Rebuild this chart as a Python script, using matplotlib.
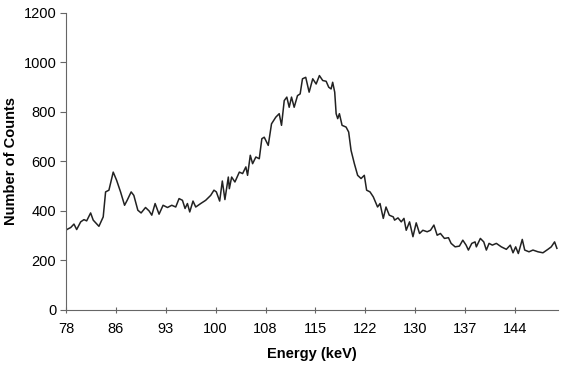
import matplotlib
matplotlib.use("Agg")
import matplotlib.pyplot as plt
import numpy as np

plt.rcParams['font.family'] = ['Liberation Sans', 'DejaVu Sans']

# Energy (keV) of traced points and counts
energy = [78.0, 78.19, 78.69, 79.17, 79.57, 80.16, 80.64, 81.04, 81.62, 82.00, 82.84,
          83.47, 83.82, 84.31, 84.94, 85.44, 86.02, 86.61, 86.99, 87.58, 87.97,
          88.56, 89.04, 89.69, 90.22, 90.61, 91.10, 91.68, 92.27, 92.92, 93.55,
          94.13, 94.62, 95.12, 95.50, 95.85, 96.19, 96.67, 97.07, 97.80, 98.53,
          99.27, 99.75, 100.10, 100.59, 100.98, 101.36, 101.86, 102.01, 102.35,
          102.83, 103.48, 103.96, 104.44, 104.69, 105.09, 105.43, 105.91, 106.41,
          106.79, 107.14, 107.73, 108.21, 108.84, 109.34, 109.68, 110.08, 110.46,
          110.81, 111.15, 111.54, 112.03, 112.42, 112.76, 113.24, 113.74, 114.27,
          114.77, 115.25, 115.74, 116.24, 116.62, 116.97, 117.20, 117.50, 117.71,
          117.94, 118.19, 118.58, 119.17, 119.55, 119.90, 120.39, 120.87, 121.37,
          121.85, 122.19, 122.69, 123.17, 123.80, 124.16, 124.64, 125.04, 125.52,
          126.11, 126.30, 126.80, 127.28, 127.68, 128.01, 128.50, 129.00, 129.48,
          129.97, 130.46, 131.09, 131.58, 132.08, 132.56, 133.04, 133.63, 134.22,
          134.61, 135.20, 135.83, 136.33, 136.81, 137.15, 137.65, 138.13, 138.32,
          138.91, 139.41, 139.79, 140.19, 140.67, 141.26, 141.99, 142.73, 143.31,
          143.71, 144.10, 144.49, 145.07, 145.43, 146.06, 146.64, 147.38, 148.11,
          148.84, 149.33, 149.82, 150.16]
counts = [322, 326, 333, 347, 325, 356, 365, 360, 392, 363, 338,
          376, 477, 484, 557, 524, 477, 423, 443, 477, 463,
          403, 392, 414, 400, 383, 430, 387, 423, 414, 423,
          416, 450, 443, 410, 430, 396, 440, 416, 430, 443,
          463, 484, 477, 440, 521, 446, 537, 490, 537,
          517, 557, 551, 578, 544, 625, 591, 618, 611,
          692, 698, 665, 752, 779, 793, 746, 846, 860,
          819, 860, 819, 866, 873, 934, 940, 880, 934,
          913, 947, 927, 924, 900, 893, 920, 880, 793,
          773, 793, 746, 739, 719, 645, 591, 544, 531,
          544, 484, 477, 457, 416, 430, 370, 416, 383,
          376, 363, 372, 356, 370, 322, 356, 296, 352,
          309, 322, 316, 322, 343, 302, 309, 289, 292,
          269, 255, 258, 282, 262, 242, 269, 275, 255,
          289, 275, 242, 269, 262, 269, 255, 245, 262,
          231, 255, 228, 285, 242, 235, 242, 235, 231,
          245, 255, 275, 249]

tick_labels = ['78', '86', '93', '100', '108', '115', '122', '130', '137', '144']
tick_pos = np.linspace(78, 144, len(tick_labels))
y_ticks = [0, 200, 400, 600, 800, 1000, 1200]

fig = plt.figure(figsize=(5.66, 3.78), dpi=100)
ax = fig.add_axes([0.1166, 0.180, 0.869, 0.7857])
ax.plot(energy, counts, color='#222222', linewidth=1.1, solid_joinstyle='round')

ax.set_xlim(78, 150.3)
ax.set_ylim(0, 1200)
ax.set_xticks(tick_pos)
ax.set_xticklabels(tick_labels)
ax.set_yticks(y_ticks)

for s in ['top', 'right']:
    ax.spines[s].set_visible(False)
for s in ['left', 'bottom']:
    ax.spines[s].set_color('#666666')
    ax.spines[s].set_linewidth(0.8)

ax.tick_params(axis='y', direction='out', length=4, width=0.8, color='#666666',
               labelsize=10.5, pad=3)
ax.tick_params(axis='x', direction='inout', length=5, width=0.8, color='#666666',
               labelsize=10.5, pad=6)

ax.set_xlabel('Energy (keV)', fontsize=10.5, fontweight='bold', labelpad=8)
ax.set_ylabel('Number of Counts', fontsize=10.5, fontweight='bold')
ax.yaxis.set_label_coords(-0.097, 0.5)

fig.savefig('out.png', dpi=100)
